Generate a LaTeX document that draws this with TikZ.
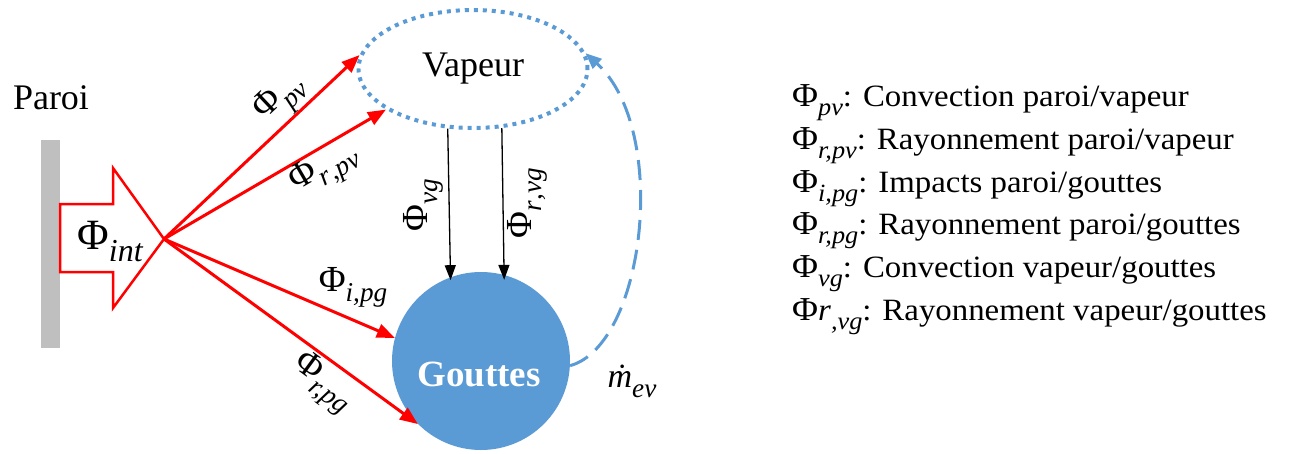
\RequirePackage{fix-cm}
\documentclass[tikz,border=0pt]{standalone}
\usepackage[no-math]{fontspec}
\setmainfont{Liberation Serif}
\newfontfamily\legfont{Liberation Serif}[FakeStretch=1.06]
\makeatletter
\newcommand{\fsz}[1]{\fontsize{\strip@pt\dimexpr#1\dimexpr\f@size pt\relax\relax}{0pt}\selectfont}
\makeatother
% flux symbol: Phi with italic subscript
\newcommand{\Ph}[1]{{\fsz{1.08}Φ}\raisebox{-0.3em}{\fsz{0.8}\itshape #1}}
\usetikzlibrary{arrows.meta,shapes.geometric}
\definecolor{myblue}{RGB}{91,155,213}
\definecolor{bargray}{RGB}{191,191,191}
\tikzset{
  redarr/.style={draw=red, line width=3pt, -{Triangle[length=18pt,width=14pt]}},
  blackarr/.style={draw=black, line width=1.3pt, -{Triangle[length=15pt,width=11pt]}},
  lbl/.style={font=\fontsize{34}{38}\selectfont, inner sep=0pt},
  legend/.style={font=\legfont\fontsize{31}{36}\selectfont, anchor=base west, inner sep=0pt},
}
\begin{document}
\begin{tikzpicture}[x=1pt,y=-1pt]
\useasboundingbox (0,0) rectangle (1290,453);
% wall
\fill[bargray] (41,140) rectangle (60,348);
\node[font=\fontsize{36}{40}\selectfont, inner sep=0pt] (paroi) at (51,98) {Paroi};
% big arrow
\draw[red, line width=2.5pt, fill=white, line join=miter]
  (60,204) -- (113,204) -- (113,168) -- (164,239) -- (113,308) -- (113,272) -- (60,272) -- cycle;
\coordinate (src) at (164,239);
\node[font=\fontsize{40}{44}\selectfont, inner sep=0pt] (phiint) at (110,242) {\Ph{int}};
% vapour
\node[ellipse, draw=myblue, line width=4pt, dash pattern=on 4pt off 5pt,
      minimum width=229pt, minimum height=118pt, inner sep=0pt,
      font=\fontsize{36}{40}\selectfont] (vap) at (473,69) {Vapeur};
% droplets
\node[circle, fill=myblue, minimum size=178pt, inner sep=0pt] (gout) at (481,361) {};
\node[text=white, font=\bfseries\fontsize{37}{40}\selectfont] (goutlbl) at (479,374) {Gouttes};
% red arrows
\draw[redarr] (src) -- (vap.173);
\draw[redarr] (src) -- (vap.205);
\draw[redarr] (src) -- (gout.165);
\draw[redarr] (src) -- (gout.225);
\node[lbl, rotate=43.3] (lpv) at (281,100) {\Ph{pv}};
\node[lbl, rotate=30.2] (lrpv) at (325,170) {\Ph{r\kern1pt,pv}};
\node[lbl] (lipg) at (353,287) {\Ph{i,pg}};
\node[lbl, rotate=-36.3] (lrpg) at (322,383) {\Ph{r,pg}};
% black arrows
\draw[blackarr, shorten >=-3pt] (vap.247) -- (gout.110);
\draw[blackarr, shorten >=-5pt] (vap.296) -- (gout.75);
\node[lbl, rotate=90] (lvg) at (423,205) {\Ph{vg}};
\node[lbl, rotate=90] (lrvg) at (527,203) {\Ph{r\kern1pt,vg}};
% evaporation
\draw[myblue, line width=3pt, dash pattern=on 20pt off 10pt, -{Triangle[length=16pt,width=13pt]}]
  (gout.-3) .. controls (645,345) and (670,130) .. (vap.8);
\node[lbl] (lmev) at (632,381) {\textit{\.{m}}\raisebox{-0.3em}{\fsz{0.8}\itshape ev}};
% legend
\node[legend] (leg1) at (792,106) {\Ph{pv}: Convection paroi/vapeur};
\node[legend] (leg2) at (792,149) {\Ph{r,pv}: Rayonnement paroi/vapeur};
\node[legend] (leg3) at (792,192) {\Ph{i,pg}: Impacts paroi/gouttes};
\node[legend] (leg4) at (792,234) {\Ph{r,pg}: Rayonnement paroi/gouttes};
\node[legend] (leg5) at (792,277) {\Ph{vg}: Convection vapeur/gouttes};
\node[legend] (leg6) at (792,320) {{\fsz{1.08}Φ}\textit{r}\raisebox{-0.3em}{\fsz{0.8}\itshape ,vg}: Rayonnement vapeur/gouttes};
\end{tikzpicture}
\end{document}
